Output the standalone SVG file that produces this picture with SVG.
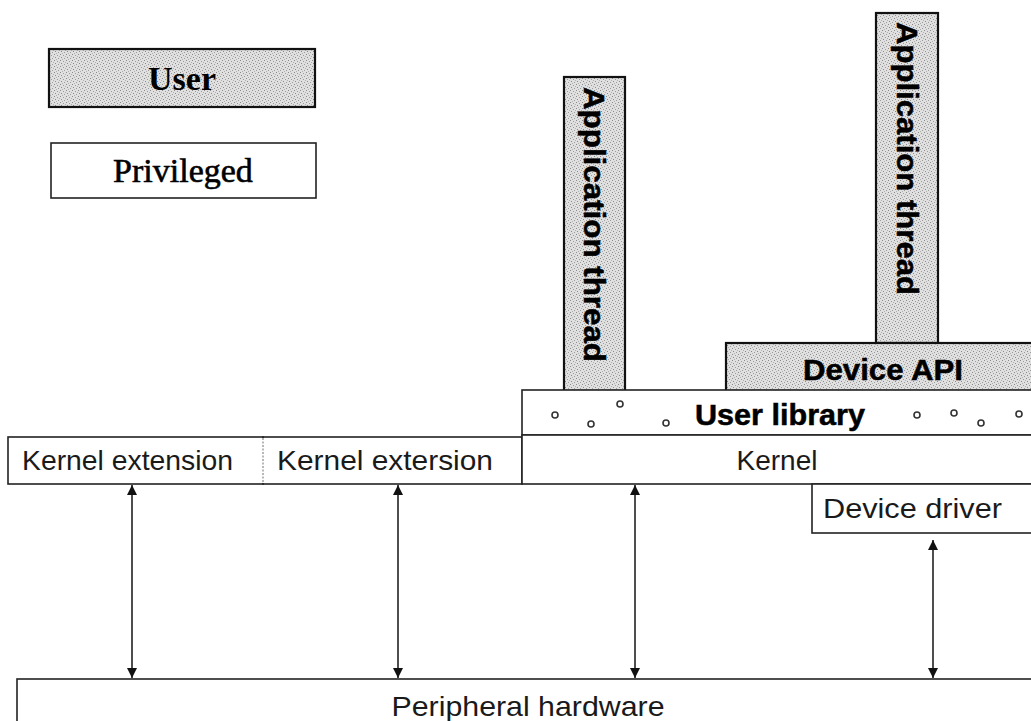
<svg xmlns="http://www.w3.org/2000/svg" width="1031" height="721" viewBox="0 0 1031 721">
<style>
.gray{fill:url(#stip);stroke:#111;stroke-width:2.2}
.white{fill:#fff;stroke:#222;stroke-width:1.6}
.sans{font-family:"Liberation Sans",Arial,sans-serif;fill:#1a1a1a;font-size:28px}
.bold{font-family:"Liberation Sans",Arial,sans-serif;font-weight:bold;fill:#000;stroke:#000;stroke-width:0.5;font-size:29px}
.serif{font-family:"Liberation Serif","Times New Roman",serif;fill:#000}
.conn{stroke:#222;stroke-width:1.6;fill:none}
.dot{fill:none;stroke:#333;stroke-width:1.6}
</style>
<defs>
<pattern id="stip" width="6" height="6" patternUnits="userSpaceOnUse">
<rect width="6" height="6" fill="#e0e0e0"/>
<rect x="0" y="0" width="1" height="1" fill="#8a8a8a"/>
<rect x="3" y="1" width="1" height="1" fill="#9a9a9a"/>
<rect x="1" y="3" width="1" height="1" fill="#8a8a8a"/>
<rect x="4" y="4" width="1" height="1" fill="#9a9a9a"/>
<rect x="5" y="2" width="1" height="1" fill="#b0b0b0"/>
<rect x="2" y="5" width="1" height="1" fill="#b0b0b0"/>
</pattern>
<marker id="ah" viewBox="0 0 10 12" refX="10" refY="6" markerWidth="10" markerHeight="12" markerUnits="userSpaceOnUse" orient="auto-start-reverse">
<path d="M0,1 L10,6 L0,11 Z" fill="#111"/>
</marker>
</defs>

<g id="legend-user">
<rect class="gray" x="49" y="49" width="266" height="58"/>
<text class="serif" x="182" y="90" font-size="34" font-weight="bold" text-anchor="middle">User</text>
</g>
<g id="legend-privileged">
<rect class="white" x="51" y="143" width="265" height="55"/>
<text class="serif" x="183" y="182" font-size="34" text-anchor="middle" stroke="#000" stroke-width="0.6">Privileged</text>
</g>

<g id="app-thread-1">
<rect class="gray" x="564" y="77" width="61" height="314"/>
<text class="bold" transform="translate(584,87) rotate(90)" textLength="275" lengthAdjust="spacingAndGlyphs">Application thread</text>
</g>
<g id="app-thread-2">
<rect class="gray" x="876" y="13" width="62" height="330"/>
<text class="bold" transform="translate(897,22) rotate(90)" textLength="273" lengthAdjust="spacingAndGlyphs">Application thread</text>
</g>
<g id="device-api">
<rect class="gray" x="726" y="343" width="320" height="48"/>
<text class="bold" x="803" y="380" textLength="160" lengthAdjust="spacingAndGlyphs">Device API</text>
</g>
<g id="user-library">
<rect class="white" x="522" y="390" width="520" height="45"/>
<text class="bold" x="695" y="425" textLength="170" lengthAdjust="spacingAndGlyphs">User library</text>
<circle class="dot" cx="555" cy="415" r="3"/>
<circle class="dot" cx="591" cy="424" r="3"/>
<circle class="dot" cx="620" cy="404" r="3"/>
<circle class="dot" cx="666" cy="423" r="3"/>
<circle class="dot" cx="917" cy="415" r="3"/>
<circle class="dot" cx="954" cy="413" r="3"/>
<circle class="dot" cx="981" cy="423" r="3"/>
<circle class="dot" cx="1019" cy="414" r="3"/>
</g>
<g id="kernel-extension-1">
<rect class="white" x="8" y="437" width="255" height="47"/>
<text class="sans" x="22" y="470" textLength="211" lengthAdjust="spacingAndGlyphs">Kernel extension</text>
</g>
<g id="kernel-extension-2">
<rect class="white" x="263" y="437" width="259" height="47"/>
<line x1="263" y1="438" x2="263" y2="483" stroke="#fff" stroke-width="2"/>
<line x1="263" y1="438" x2="263" y2="483" stroke="#999" stroke-width="1.4" stroke-dasharray="2 1.5"/>
<text class="sans" x="277" y="470" textLength="216" lengthAdjust="spacingAndGlyphs">Kernel extersion</text>
</g>
<g id="kernel">
<rect class="white" x="522" y="435" width="520" height="49"/>
<text class="sans" x="777" y="470" text-anchor="middle">Kernel</text>
</g>
<g id="device-driver">
<rect class="white" x="812" y="484" width="230" height="49"/>
<text class="sans" x="823" y="518" textLength="179" lengthAdjust="spacingAndGlyphs">Device driver</text>
</g>
<g id="peripheral-hardware">
<rect class="white" x="17" y="679" width="1025" height="60"/>
<text class="sans" x="528" y="716" text-anchor="middle" textLength="273" lengthAdjust="spacingAndGlyphs">Peripheral hardware</text>
</g>

<g id="connectors">
<line class="conn" x1="132" y1="485" x2="132" y2="678" marker-start="url(#ah)" marker-end="url(#ah)"/>
<line class="conn" x1="398" y1="485" x2="398" y2="678" marker-start="url(#ah)" marker-end="url(#ah)"/>
<line class="conn" x1="635" y1="485" x2="635" y2="678" marker-start="url(#ah)" marker-end="url(#ah)"/>
<line class="conn" x1="933" y1="540" x2="933" y2="678" marker-start="url(#ah)" marker-end="url(#ah)"/>
</g>
</svg>
